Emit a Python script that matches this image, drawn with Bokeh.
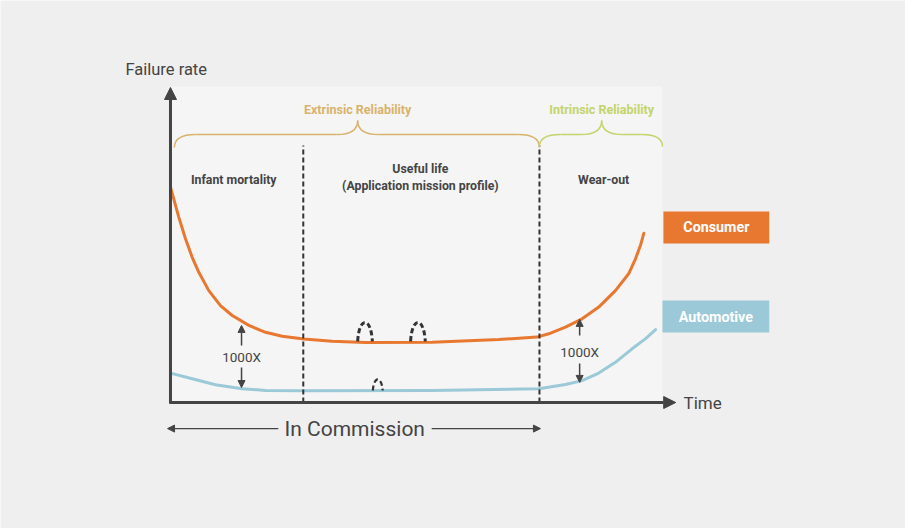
from bokeh.plotting import figure
from bokeh.models import Range1d, Arrow, NormalHead, Label
from bokeh.embed import file_html
from bokeh.resources import INLINE

# ---- data (time units 0..100, failure-rate units 0..100) ----
consumer_t = [0, 1.69, 3.06, 4.43, 5.78, 7.82, 10.2, 12.6, 16.0, 19.4, 22.8, 27.2, 33.0, 39.8, 53.4, 67.0,
              74.8, 77.2, 80.6, 84.0, 87.4, 90.8, 93.5, 94.9, 95.9, 96.6]
consumer_r = [71.8, 61.8, 54.6, 48.4, 43.4, 37.3, 32.3, 29.0, 25.7, 23.4, 22.1, 21.2, 20.4, 20.0, 20.1, 21.0,
              21.8, 22.9, 25.1, 27.9, 31.8, 37.3, 42.9, 47.9, 52.3, 56.4]
auto_t = [0, 4.43, 9.18, 14.6, 19.4, 27.2, 53.4, 75.2, 80.6, 84.0, 87.4, 90.8, 94.2, 96.9, 99.0]
auto_r = [9.8, 7.9, 5.9, 4.6, 4.0, 3.9, 4.0, 4.6, 6.0, 7.3, 9.8, 13.4, 17.9, 21.2, 24.3]
phase_bounds = [27.1, 75.3]
phase_labels = ["Infant mortality", "Useful life\n(Application mission profile)", "Wear-out"]
phase_centers = [12.9, 51.0, 88.4]
series_names = ["Consumer", "Automotive"]

DARK = "#444444"
ORANGE = "#e8782f"
BLUE = "#9bc9d7"
TAN = "#d8b36b"
LIME = "#c3d46b"
FONT = "Roboto"

p = figure(width=905, height=528, output_backend="svg", toolbar_location=None,
           x_axis_type=None, y_axis_type=None, min_border=0,
           x_range=Range1d(-34.69, 150.0), y_range=Range1d(-42.0, 134.0))
p.background_fill_color = "#efefef"
p.border_fill_color = "#efefef"
p.outline_line_color = None
p.grid.visible = False

# inner panel
p.quad(left=0, right=100.4, bottom=0, top=105.3, fill_color="#f5f5f5", line_color=None)

# curves
p.line(consumer_t, consumer_r, line_color=ORANGE, line_width=3, line_cap="round", line_join="round")
p.line(auto_t, auto_r, line_color=BLUE, line_width=3, line_cap="round", line_join="round")

# phase boundaries
for b in phase_bounds:
    p.segment(x0=b, y0=0, x1=b, y1=85.7, line_color="#333333", line_width=2, line_dash="5 3")

# bumps (dashed arcs)
def bump(x0, x1, base, peak, lw):
    h = base + (peak - base) / 0.75
    w = x1 - x0
    p.bezier(x0=x0, y0=base, x1=x1, y1=base, cx0=x0 + 0.1 * w, cy0=h, cx1=x1 - 0.1 * w, cy1=h,
             line_color="#333333", line_width=lw, line_dash="5 3")

bump(38.2, 41.2, 20.4, 26.7, 3)
bump(49.0, 52.0, 20.4, 26.7, 3)
bump(41.3, 43.3, 4.0, 7.7, 2.2)

# axes with arrow heads
p.add_layout(Arrow(x_start=0, y_start=-0.3, x_end=0, y_end=105, line_color=DARK, line_width=3,
                   end=NormalHead(size=12, fill_color=DARK, line_color=DARK)))
p.add_layout(Arrow(x_start=-0.2, y_start=0, x_end=103.1, y_end=0, line_color=DARK, line_width=3,
                   end=NormalHead(size=12, fill_color=DARK, line_color=DARK)))

p.add_layout(Label(x=-9.2, y=111, text="Failure rate", text_font=FONT, text_font_size="16.5px",
                   text_color=DARK, text_baseline="middle", text_align="left"))
p.add_layout(Label(x=104.7, y=-0.3, text="Time", text_font=FONT, text_font_size="17px",
                   text_color=DARK, text_baseline="middle", text_align="left"))

# braces
def brace(xa, xb, xm, y_end, y_line, y_tip, rx, color):
    kw = dict(line_color=color, line_width=1.5)
    p.quadratic(x0=xa, y0=y_end, x1=xa + rx, y1=y_line, cx=xa, cy=y_line, **kw)
    p.segment(x0=xa + rx, y0=y_line, x1=xm - rx, y1=y_line, **kw)
    p.quadratic(x0=xm - rx, y0=y_line, x1=xm, y1=y_tip, cx=xm, cy=y_line, **kw)
    p.quadratic(x0=xm, y0=y_tip, x1=xm + rx, y1=y_line, cx=xm, cy=y_line, **kw)
    p.segment(x0=xm + rx, y0=y_line, x1=xb - rx, y1=y_line, **kw)
    p.quadratic(x0=xb - rx, y0=y_line, x1=xb, y1=y_end, cx=xb, cy=y_line, **kw)

brace(0.8, 75.3, 38.2, 85.0, 89.3, 94.0, 4.3, TAN)
brace(75.3, 100.4, 88.0, 85.3, 89.3, 94.0, 4.3, LIME)
p.add_layout(Label(x=38.2, y=97.7, text="Extrinsic Reliability", text_font=FONT, text_font_size="12.5px",
                   text_font_style="bold", text_color=TAN, text_align="center", text_baseline="middle"))
p.add_layout(Label(x=88.0, y=97.7, text="Intrinsic Reliability", text_font=FONT, text_font_size="12.5px",
                   text_font_style="bold", text_color=LIME, text_align="center", text_baseline="middle"))

# phase labels
p.add_layout(Label(x=phase_centers[0], y=74.3, text=phase_labels[0], text_font=FONT, text_font_size="12.3px",
                   text_font_style="bold", text_color=DARK, text_align="center", text_baseline="middle"))
for i, line in enumerate(phase_labels[1].split("\n")):
    p.add_layout(Label(x=phase_centers[1], y=77.7 - 5.4 * i, text=line, text_font=FONT, text_font_size="12.3px",
                       text_font_style="bold", text_color=DARK, text_align="center", text_baseline="middle"))
p.add_layout(Label(x=phase_centers[2], y=74.3, text=phase_labels[2], text_font=FONT, text_font_size="12.3px",
                   text_font_style="bold", text_color=DARK, text_align="center", text_baseline="middle"))

# 1000X markers
def factor_marker(x, up_from, up_to, text_y, dn_from, dn_to):
    head = dict(size=7, fill_color=DARK, line_color=DARK)
    p.add_layout(Arrow(x_start=x, y_start=up_from, x_end=x, y_end=up_to, line_color=DARK, line_width=1.5,
                       end=NormalHead(**head)))
    p.add_layout(Arrow(x_start=x, y_start=dn_from, x_end=x, y_end=dn_to, line_color=DARK, line_width=1.5,
                       end=NormalHead(**head)))
    p.add_layout(Label(x=x, y=text_y, text="1000X", text_font=FONT, text_font_size="13.5px",
                       text_color=DARK, text_align="center", text_baseline="middle"))

factor_marker(14.5, 19.0, 25.7, 15.3, 11.7, 5.0)
factor_marker(83.5, 22.3, 27.7, 17.0, 13.0, 6.7)

# legend boxes
legend_colors = [ORANGE, BLUE]
legend_boxes = [(100.6, 122.2, 53.0, 63.7), (100.4, 122.2, 23.3, 34.0)]
for name, col, (l, r, b, t) in zip(series_names, legend_colors, legend_boxes):
    p.quad(left=l, right=r, bottom=b, top=t, fill_color=col, line_color=None)
    p.add_layout(Label(x=(l + r) / 2, y=(b + t) / 2, text=name, text_font=FONT, text_font_size="14.3px",
                       text_font_style="bold", text_color="white", text_align="center", text_baseline="middle"))

# In Commission
ch = dict(size=7, fill_color=DARK, line_color=DARK)
p.add_layout(Arrow(x_start=22.0, y_start=-8.7, x_end=-0.6, y_end=-8.7, line_color=DARK, line_width=1.2,
                   end=NormalHead(**ch)))
p.add_layout(Arrow(x_start=53.3, y_start=-8.7, x_end=75.5, y_end=-8.7, line_color=DARK, line_width=1.2,
                   end=NormalHead(**ch)))
p.add_layout(Label(x=37.6, y=-8.7, text="In Commission", text_font=FONT, text_font_size="21px",
                   text_color=DARK, text_align="center", text_baseline="middle"))

open("out.html", "w").write(file_html(p, INLINE))
